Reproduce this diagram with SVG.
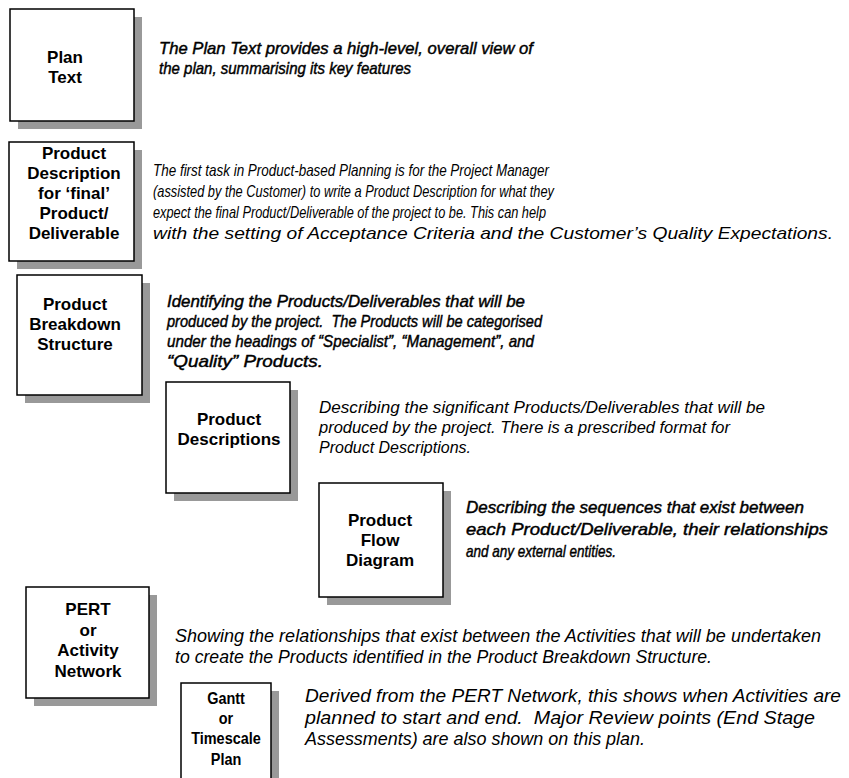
<svg xmlns="http://www.w3.org/2000/svg" width="849" height="778" viewBox="0 0 849 778">
  <style>
    .shadow { fill: #999999; }
    .box { fill: #ffffff; stroke: #000000; stroke-width: 1.5; }
    .lbl { font-family: "Liberation Sans", Arial, sans-serif; font-size: 17px; font-weight: bold; text-anchor: middle; fill: #000; }
    .desc { font-family: "Liberation Sans", Arial, sans-serif; font-size: 17px; font-style: italic; fill: #000; }
    .heavy { stroke: #000; stroke-width: 0.45; }
    .mid { font-size: 18px; }
    .tall { font-size: 19px; }
  </style>
  <rect width="849" height="778" fill="#ffffff"/>

  <!-- Plan Text -->
  <g id="plan-text">
    <rect class="shadow" x="18" y="17" width="124" height="112"/>
    <rect class="box" x="10" y="9" width="124" height="112"/>
    <text class="lbl" x="65" y="63">Plan</text>
    <text class="lbl" x="65" y="83">Text</text>
  </g>
  <g id="plan-text-note">
    <text class="desc heavy" x="159" y="54" textLength="374" lengthAdjust="spacingAndGlyphs">The Plan Text provides a high-level, overall view of</text>
    <text class="desc heavy" x="159" y="74" textLength="252" lengthAdjust="spacingAndGlyphs">the plan, summarising its key features</text>
  </g>

  <!-- Product Description for the final product -->
  <g id="final-product-description">
    <rect class="shadow" x="17" y="150" width="125" height="119"/>
    <rect class="box" x="9" y="142" width="125" height="119"/>
    <text class="lbl" x="74" y="159">Product</text>
    <text class="lbl" x="74" y="179">Description</text>
    <text class="lbl" x="74" y="199">for ‘final’</text>
    <text class="lbl" x="74" y="219">Product/</text>
    <text class="lbl" x="74" y="239">Deliverable</text>
  </g>
  <g id="final-product-description-note">
    <text class="desc" x="153" y="176" textLength="396" lengthAdjust="spacingAndGlyphs">The first task in Product-based Planning is for the Project Manager</text>
    <text class="desc" x="153" y="197" textLength="401" lengthAdjust="spacingAndGlyphs">(assisted by the Customer) to write a Product Description for what they</text>
    <text class="desc" x="153" y="218" textLength="393" lengthAdjust="spacingAndGlyphs">expect the final Product/Deliverable of the project to be. This can help</text>
    <text class="desc" x="153" y="239" textLength="680" lengthAdjust="spacingAndGlyphs">with the setting of Acceptance Criteria and the Customer’s Quality Expectations.</text>
  </g>

  <!-- Product Breakdown Structure -->
  <g id="product-breakdown-structure">
    <rect class="shadow" x="25" y="283" width="125" height="120"/>
    <rect class="box" x="17" y="275" width="125" height="120"/>
    <text class="lbl" x="75" y="310">Product</text>
    <text class="lbl" x="75" y="330">Breakdown</text>
    <text class="lbl" x="75" y="350">Structure</text>
  </g>
  <g id="product-breakdown-structure-note">
    <text class="desc heavy" x="167" y="307" textLength="358" lengthAdjust="spacingAndGlyphs">Identifying the Products/Deliverables that will be</text>
    <text class="desc heavy" x="167" y="327" textLength="375" lengthAdjust="spacingAndGlyphs">produced by the project.&#160; The Products will be categorised</text>
    <text class="desc heavy" x="167" y="347" textLength="367" lengthAdjust="spacingAndGlyphs">under the headings of “Specialist”, “Management”, and</text>
    <text class="desc heavy" x="167" y="367" textLength="156" lengthAdjust="spacingAndGlyphs">“Quality” Products.</text>
  </g>

  <!-- Product Descriptions -->
  <g id="product-descriptions">
    <rect class="shadow" x="174" y="390" width="124" height="111"/>
    <rect class="box" x="166" y="382" width="124" height="111"/>
    <text class="lbl" x="229" y="425">Product</text>
    <text class="lbl" x="229" y="445">Descriptions</text>
  </g>
  <g id="product-descriptions-note">
    <text class="desc" x="319" y="413" textLength="446" lengthAdjust="spacingAndGlyphs">Describing the significant Products/Deliverables that will be</text>
    <text class="desc" x="319" y="433" textLength="411" lengthAdjust="spacingAndGlyphs">produced by the project. There is a prescribed format for</text>
    <text class="desc" x="319" y="453" textLength="152" lengthAdjust="spacingAndGlyphs">Product Descriptions.</text>
  </g>

  <!-- Product Flow Diagram -->
  <g id="product-flow-diagram">
    <rect class="shadow" x="327" y="491" width="124" height="114"/>
    <rect class="box" x="319" y="483" width="124" height="114"/>
    <text class="lbl" x="380" y="526">Product</text>
    <text class="lbl" x="380" y="546">Flow</text>
    <text class="lbl" x="380" y="566">Diagram</text>
  </g>
  <g id="product-flow-diagram-note">
    <text class="desc heavy" x="466" y="513" textLength="338" lengthAdjust="spacingAndGlyphs">Describing the sequences that exist between</text>
    <text class="desc heavy" x="466" y="535" textLength="362" lengthAdjust="spacingAndGlyphs">each Product/Deliverable, their relationships</text>
    <text class="desc heavy" x="466" y="557" textLength="150" lengthAdjust="spacingAndGlyphs">and any external entities.</text>
  </g>

  <!-- PERT or Activity Network -->
  <g id="activity-network">
    <rect class="shadow" x="34" y="595" width="123" height="111"/>
    <rect class="box" x="26" y="587" width="123" height="111"/>
    <text class="lbl" x="88" y="615">PERT</text>
    <text class="lbl" x="88" y="636">or</text>
    <text class="lbl" x="88" y="656">Activity</text>
    <text class="lbl" x="88" y="677">Network</text>
  </g>
  <g id="activity-network-note">
    <text class="desc mid" x="175" y="642" textLength="646" lengthAdjust="spacingAndGlyphs">Showing the relationships that exist between the Activities that will be undertaken</text>
    <text class="desc mid" x="175" y="663" textLength="537" lengthAdjust="spacingAndGlyphs">to create the Products identified in the Product Breakdown Structure.</text>
  </g>

  <!-- Gantt or Timescale Plan -->
  <g id="timescale-plan">
    <rect class="shadow" x="189" y="691" width="90" height="110"/>
    <rect class="box" x="181" y="683" width="90" height="110"/>
    <g transform="translate(226,0) scale(0.85,1)">
      <text class="lbl" x="0" y="704">Gantt</text>
      <text class="lbl" x="0" y="724">or</text>
      <text class="lbl" x="0" y="744">Timescale</text>
      <text class="lbl" x="0" y="765">Plan</text>
    </g>
  </g>
  <g id="timescale-plan-note">
    <text class="desc tall" x="305" y="702" textLength="536" lengthAdjust="spacingAndGlyphs">Derived from the PERT Network, this shows when Activities are</text>
    <text class="desc tall" x="305" y="724" textLength="510" lengthAdjust="spacingAndGlyphs">planned to start and end.&#160; Major Review points (End Stage</text>
    <text class="desc tall" x="305" y="745" textLength="340" lengthAdjust="spacingAndGlyphs">Assessments) are also shown on this plan.</text>
  </g>
</svg>
